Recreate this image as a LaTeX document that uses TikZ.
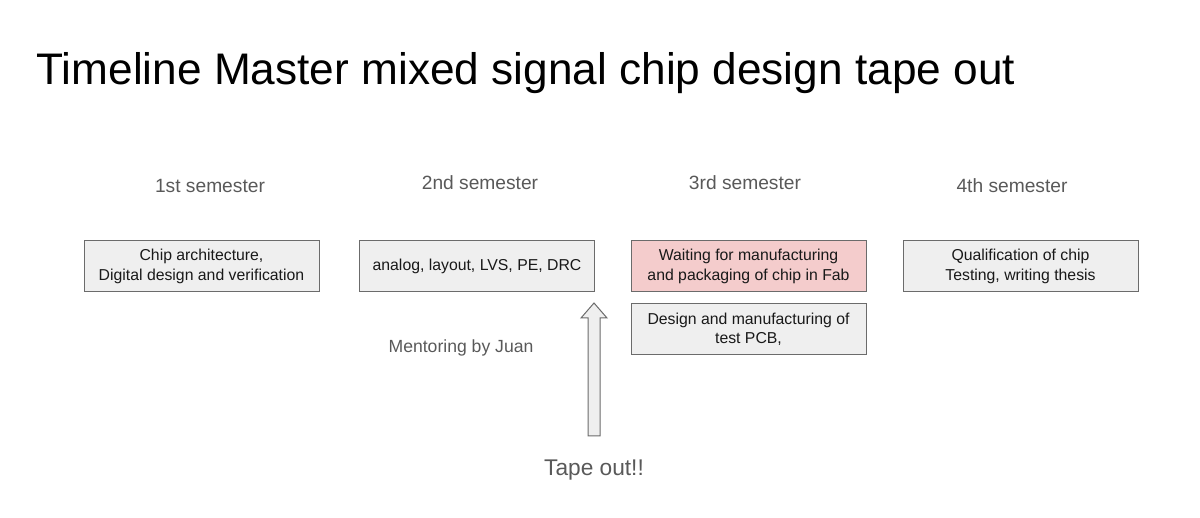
\documentclass[tikz,border=0pt]{standalone}
\usepackage{fontspec}
\setmainfont{Liberation Sans}
\usepackage{tikz}
\usetikzlibrary{calc,positioning}
\usepackage{xcolor}
\definecolor{boxgray}{HTML}{EFEFEF}
\definecolor{boxline}{HTML}{6B6B6B}
\definecolor{waitpink}{HTML}{F4CCCC}
\definecolor{labelgray}{HTML}{595959}
\tikzset{
    task/.style={draw=boxline, line width=1pt, fill=boxgray, minimum width=235pt,
        minimum height=51pt, align=center, inner sep=0pt, text=black!90,
        font=\fontsize{15.8}{19.5}\selectfont},
    semlabel/.style={text=labelgray, font=\fontsize{19.2}{22}\selectfont},
}

\begin{document}
\begin{tikzpicture}[x=1pt,y=-1pt]
    \useasboundingbox (0,0) rectangle (1200,518);

        % Title
        \node[anchor=base west, font=\fontsize{44.2}{50}\selectfont] (title) at (33,85)
            {Timeline Master mixed signal chip design tape out};

        % Semester labels
        \foreach \x/\y/\n in {210/186/1st, 480/183/2nd, 745/183/3rd, 1012/186/4th} {
            \node[semlabel] (sem\n) at (\x,\y) {\n\ semester};
        }

        % Task boxes
        \node[task] (arch) at (201.5,266.5) {Chip architecture,\\Digital design and verification};
        \node[task] (analog) at (477,266.5) {analog, layout, LVS, PE, DRC};
        \node[task, fill=waitpink] (wait) at (748.5,266.5) {Waiting for manufacturing\\and packaging of chip in Fab};
        \node[task, below=11pt of wait] (pcb) {Design and manufacturing of\\test PCB,};
        \node[task] (qual) at (1020.5,266.5) {Qualification of chip\\Testing, writing thesis};

        \node[semlabel, font=\fontsize{17.6}{20}\selectfont] (mentor) at (461,348) {Mentoring by Juan};
        \node[semlabel, font=\fontsize{22.7}{26}\selectfont] (tape) at (594,470) {Tape out!!};

        % Block arrow up to the end of 2nd semester
        \coordinate (tip) at (594,303);
        \draw[draw=boxline, line width=1pt, fill=boxgray]
            (tip) -- ($(tip)+(13,15)$) -- ($(tip)+(6,15)$) -- ($(tip)+(6,133)$)
            -- ($(tip)+(-6,133)$) -- ($(tip)+(-6,15)$) -- ($(tip)+(-13,15)$) -- cycle;

\end{tikzpicture}
\end{document}
